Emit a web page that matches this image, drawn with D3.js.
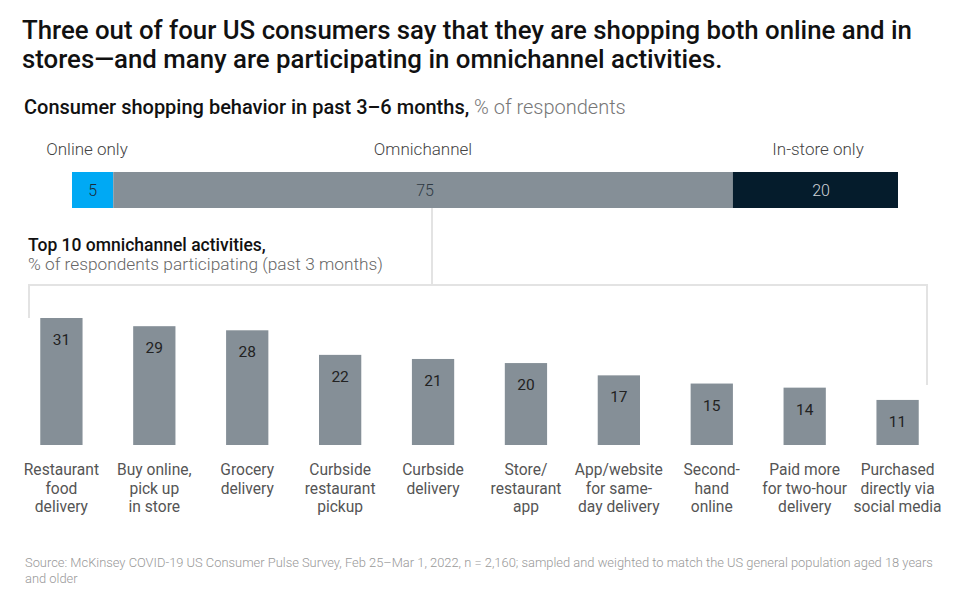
<!DOCTYPE html>
<html><head><meta charset="utf-8">
<script src="https://cdn.jsdelivr.net/npm/d3@7"></script>
<style>
body{margin:0;background:#fff;}
text{font-family:"Roboto","Liberation Sans",sans-serif;}
</style></head>
<body><svg id="c" width="962" height="595"></svg>
<script>
const segments = ["Online only","Omnichannel","In-store only"];
const segmentValues = [5,75,20];
const segmentColors = ["#00A9F4","#858F97","#051C2C"];
const segmentTextColors = ["#1b2b3a","#2f3a44","#d0d4d8"];

const activities = [
  ["Restaurant","food","delivery"],
  ["Buy online,","pick up","in store"],
  ["Grocery","delivery"],
  ["Curbside","restaurant","pickup"],
  ["Curbside","delivery"],
  ["Store/","restaurant","app"],
  ["App/website","for same-","day delivery"],
  ["Second-","hand","online"],
  ["Paid more","for two-hour","delivery"],
  ["Purchased","directly via","social media"]
];
const activityValues = [31,29,28,22,21,20,17,15,14,11];

const svg = d3.select("#c");

// Title
const title = svg.append("text").attr("x",22).attr("y",39)
  .attr("font-size",25.8).attr("font-weight",500).attr("fill","#111");
title.append("tspan").attr("x",22).attr("dy",0).text("Three out of four US consumers say that they are shopping both online and in");
title.append("tspan").attr("x",22).attr("dy",29).text("stores\u2014and many are participating in omnichannel activities.");

const sub = svg.append("text").attr("x",24).attr("y",114).attr("font-size",20);
sub.append("tspan").attr("font-weight",500).attr("fill","#111").text("Consumer shopping behavior in past 3\u20136 months,");
sub.append("tspan").attr("fill","#777").attr("font-weight",300).text(" % of respondents");

// Stacked bar
const xs = d3.scaleLinear().domain([0,100]).range([72,898]);
let cum = 0;
const segs = segmentValues.map((v,i)=>{const s={name:segments[i],v,x0:cum,x1:cum+v,i}; cum+=v; return s;});
const barY = 172, barH = 36;
svg.selectAll("rect.seg").data(segs).enter().append("rect")
  .attr("x",d=>xs(d.x0)).attr("width",d=>xs(d.x1)-xs(d.x0))
  .attr("y",barY).attr("height",barH).attr("fill",d=>segmentColors[d.i]);
svg.selectAll("text.segv").data(segs).enter().append("text")
  .attr("x",d=>{ if(d.i===1) return 425; if(d.i===2) return 821; return (xs(d.x0)+xs(d.x1))/2;})
  .attr("y",barY+barH/2+5.5).attr("text-anchor","middle").attr("font-size",16)
  .attr("font-weight",300).attr("fill",d=>segmentTextColors[d.i]).text(d=>d.v);
const segLabelX = [87,423,818];
svg.selectAll("text.segl").data(segs).enter().append("text")
  .attr("x",d=>segLabelX[d.i]).attr("y",155).attr("text-anchor","middle")
  .attr("font-size",17).attr("font-weight",300).attr("fill","#444").text(d=>d.name);

// connector lines
const lc = "#e3e3e3";
svg.append("line").attr("x1",432).attr("x2",432).attr("y1",barY+barH).attr("y2",285).attr("stroke",lc).attr("stroke-width",2);
svg.append("path").attr("d","M29,318 V285 H927 V385").attr("fill","none").attr("stroke",lc).attr("stroke-width",2);

// sub heading 2
svg.append("text").attr("x",28).attr("y",251).attr("font-size",17.5).attr("font-weight",500).attr("fill","#111").text("Top 10 omnichannel activities,");
svg.append("text").attr("x",28).attr("y",270).attr("font-size",17.3).attr("font-weight",300).attr("fill","#666").text("% of respondents participating (past 3 months)");

// Bars
const xb = d3.scaleBand().domain(d3.range(10)).range([15,944]).paddingInner(0.545).paddingOuter(0.272);
const yb = d3.scaleLinear().domain([0,31]).range([445,318]);
const g = svg.append("g");
g.selectAll("rect").data(activityValues).enter().append("rect")
  .attr("x",(d,i)=>xb(i)).attr("width",xb.bandwidth())
  .attr("y",d=>yb(d)).attr("height",d=>yb(0)-yb(d)).attr("fill","#858F97");
g.selectAll("text.v").data(activityValues).enter().append("text")
  .attr("x",(d,i)=>xb(i)+xb.bandwidth()/2).attr("y",d=>yb(d)+27)
  .attr("text-anchor","middle").attr("font-size",15.5).attr("fill","#222").attr("font-family","Liberation Sans").text(d=>d);
const lab = g.selectAll("text.l").data(activities).enter().append("text")
  .attr("x",(d,i)=>xb(i)+xb.bandwidth()/2).attr("y",475).attr("text-anchor","middle")
  .attr("font-size",15.6).attr("fill","#555").attr("font-family","Liberation Sans");
lab.each(function(d,i){
  const t=d3.select(this);
  d.forEach((line,k)=>t.append("tspan").attr("x",xb(i)+xb.bandwidth()/2).attr("dy",k?18.5:0).text(line));
});

// Source
const src = svg.append("text").attr("x",25).attr("y",567).attr("font-size",12.9).attr("fill","#999").attr("font-weight",300);
src.append("tspan").attr("x",25).text("Source: McKinsey COVID-19 US Consumer Pulse Survey, Feb 25\u2013Mar 1, 2022, n = 2,160; sampled and weighted to match the US general population aged 18 years");
src.append("tspan").attr("x",25).attr("dy",16).text("and older");
</script></body></html>
